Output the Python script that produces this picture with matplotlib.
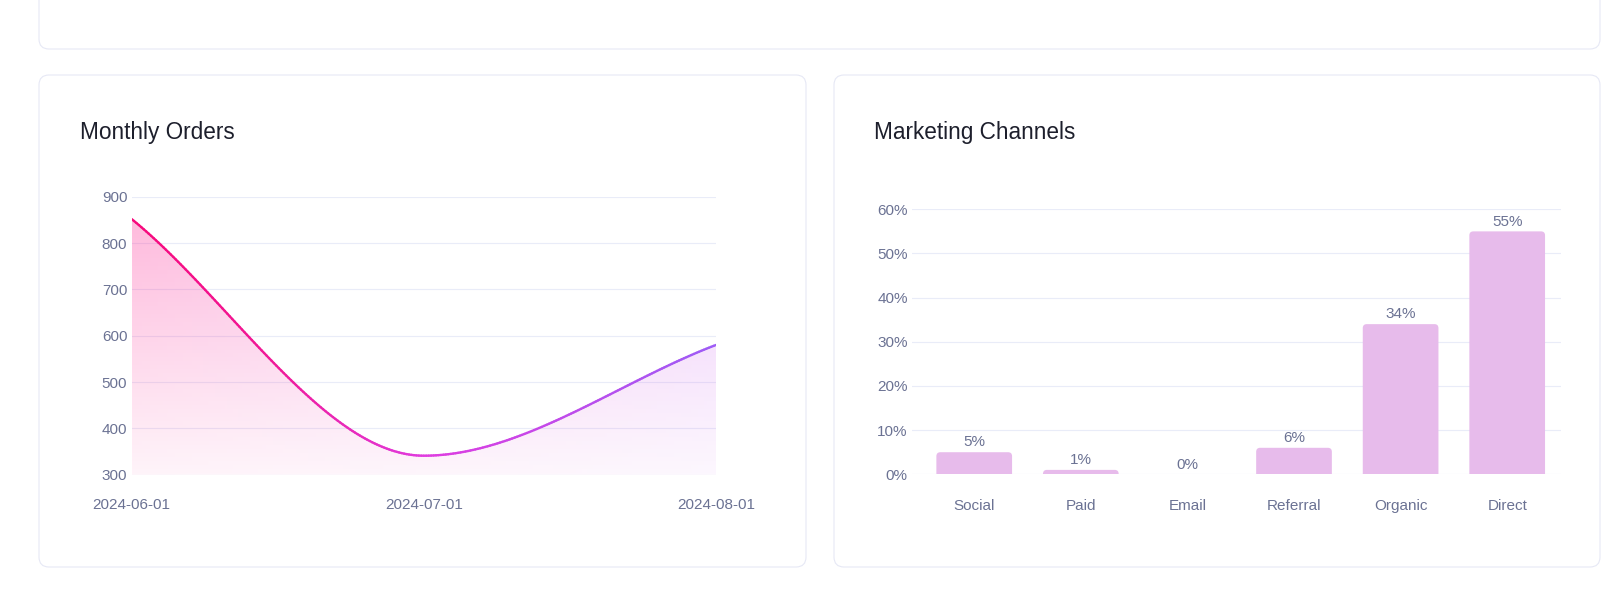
import numpy as np
import matplotlib.pyplot as plt
from matplotlib.path import Path
from matplotlib.patches import PathPatch, FancyBboxPatch
from matplotlib.collections import LineCollection
from matplotlib.colors import LinearSegmentedColormap
from matplotlib.transforms import IdentityTransform

plt.rcParams['font.family'] = ['Liberation Sans', 'DejaVu Sans']

# data
order_dates = ['2024-06-01', '2024-07-01', '2024-08-01']
order_counts = [852, 341, 580]
order_ticks = [300, 400, 500, 600, 700, 800, 900]

channels = ['Social', 'Paid', 'Email', 'Referral', 'Organic', 'Direct']
channel_share = [5, 1, 0, 6, 34, 55]
share_ticks = [0, 10, 20, 30, 40, 50, 60]

W, H = 1619, 596
TICK_COLOR = '#6b7293'
GRID_COLOR = '#e9ecf8'
TITLE_COLOR = '#1d1f2c'
BAR_COLOR = '#e7bbeb'

fig = plt.figure(figsize=(W / 100, H / 100), dpi=100)
fig.patch.set_facecolor('white')

# card backgrounds (pixel coords, y measured from top)
for x0, y0, x1, y1 in [(39, -30, 1600, 49), (39, 75, 806, 567), (834, 75, 1600, 567)]:
    card = FancyBboxPatch((x0, H - y1), x1 - x0, y1 - y0,
                          boxstyle='round,pad=0,rounding_size=10',
                          transform=IdentityTransform(), fc='white',
                          ec='#e6e8f5', lw=0.8, zorder=0)
    fig.add_artist(card)

fig.text(79.5 / W, 1 - 132.5 / H, 'Monthly Orders', fontsize=16.3,
         color=TITLE_COLOR, va='center', ha='left')
fig.text(873.5 / W, 1 - 132.5 / H, 'Marketing Channels', fontsize=16.3,
         color=TITLE_COLOR, va='center', ha='left')

# ---- Monthly Orders (smooth area) ----
ax1 = fig.add_axes([131.5 / W, (H - 474.7) / H, (716 - 131.5) / W, (474.7 - 196.7) / H])
ax1.set_facecolor('none')

x = np.arange(len(order_counts), dtype=float)
y = np.array(order_counts, dtype=float)
d = np.diff(y) / np.diff(x)
m = np.empty_like(y)
m[0], m[-1] = d[0], d[-1]
for i in range(1, len(y) - 1):
    m[i] = 0.0 if d[i - 1] * d[i] <= 0 else (d[i - 1] + d[i]) / 2

verts = [(x[0], y[0])]
codes = [Path.MOVETO]
for i in range(len(x) - 1):
    h = x[i + 1] - x[i]
    verts += [(x[i] + h / 3, y[i] + m[i] * h / 3),
              (x[i + 1] - h / 3, y[i + 1] - m[i + 1] * h / 3),
              (x[i + 1], y[i + 1])]
    codes += [Path.CURVE4] * 3
curve = Path(verts, codes)

base_y = order_ticks[0]
fill_path = Path(verts + [(x[-1], base_y), (x[0], base_y), (x[0], y[0])],
                 codes + [Path.LINETO, Path.LINETO, Path.CLOSEPOLY])
fill_patch = PathPatch(fill_path, fc='none', ec='none')
ax1.add_patch(fill_patch)

nx_, ny_ = 200, 200
gx = np.linspace(0, 1, nx_)
gy = np.linspace(0, 1, ny_)
pink = np.array([255, 25, 140]) / 255
purple = np.array([205, 95, 240]) / 255
base = pink[None, :] * (1 - gx)[:, None] + purple[None, :] * gx[:, None]
img = np.zeros((ny_, nx_, 4))
img[..., :3] = base[None, :, :]
img[..., 3] = (0.05 + 0.25 * gy)[:, None]
im = ax1.imshow(img, extent=[x[0], x[-1], base_y, y.max()], origin='lower',
                aspect='auto', zorder=1, interpolation='bilinear')
im.set_clip_path(fill_patch)

pts = []
for seg, code in curve.iter_bezier():
    if code == Path.CURVE4:
        pts.append(seg(np.linspace(0, 1, 120)))
pts = np.vstack(pts)
segs = np.stack([pts[:-1], pts[1:]], axis=1)
stroke_cmap = LinearSegmentedColormap.from_list(
    'stroke', [(0, '#f7097c'), (0.25, '#f01a9a'), (0.5, '#e03ce0'), (1, '#9d5cf6')])
lc = LineCollection(segs, colors=stroke_cmap(pts[:-1, 0] / x[-1]),
                    linewidths=1.7, capstyle='round', zorder=3)
ax1.add_collection(lc)

ax1.set_xlim(x[0], x[-1])
ax1.set_ylim(order_ticks[0], order_ticks[-1])
ax1.set_yticks(order_ticks)
ax1.set_xticks(x)
ax1.set_xticklabels(order_dates)
ax1.grid(axis='y', color=GRID_COLOR, lw=0.8, zorder=0)
ax1.set_axisbelow(True)
for s in ax1.spines.values():
    s.set_visible(False)
ax1.tick_params(axis='y', length=0, pad=3.0, labelsize=11, labelcolor=TICK_COLOR)
ax1.tick_params(axis='x', length=0, pad=16.5, labelsize=11, labelcolor=TICK_COLOR)

# ---- Marketing Channels (bars with rounded tops) ----
ax2 = fig.add_axes([912.4 / W, (H - 474.3) / H, (1560.5 - 912.4) / W, (474.3 - 209.3) / H])
ax2.set_facecolor('none')
ax2.set_xlim(-0.58, len(channels) - 0.5)
ax2.set_ylim(share_ticks[0], share_ticks[-1])

pos = np.arange(len(channels))
bar_w = 0.71
px_x = ax2.bbox.width / (ax2.get_xlim()[1] - ax2.get_xlim()[0])
px_y = ax2.bbox.height / (ax2.get_ylim()[1] - ax2.get_ylim()[0])
for i, v in enumerate(channel_share):
    if v <= 0:
        continue
    ry = min(4 / px_y, v)
    rx = ry * px_y / px_x
    x0, x1 = i - bar_w / 2, i + bar_w / 2
    bar_path = Path([(x0, 0), (x0, v - ry), (x0, v), (x0 + rx, v),
                     (x1 - rx, v), (x1, v), (x1, v - ry), (x1, 0), (x0, 0)],
                    [Path.MOVETO, Path.LINETO, Path.CURVE3, Path.CURVE3,
                     Path.LINETO, Path.CURVE3, Path.CURVE3, Path.LINETO, Path.CLOSEPOLY])
    ax2.add_patch(PathPatch(bar_path, fc=BAR_COLOR, ec='none', zorder=2))
for i, v in enumerate(channel_share):
    ax2.annotate(f'{v}%', (i, v), xytext=(0, 2), textcoords='offset points',
                 ha='center', va='bottom', fontsize=11, color=TICK_COLOR)
ax2.set_yticks(share_ticks)
ax2.set_yticklabels([f'{v}%' for v in share_ticks])
ax2.set_xticks(pos)
ax2.set_xticklabels(channels)
ax2.grid(axis='y', color=GRID_COLOR, lw=0.8, zorder=0)
ax2.set_axisbelow(True)
for s in ax2.spines.values():
    s.set_visible(False)
ax2.tick_params(axis='y', length=0, pad=3.3, labelsize=11, labelcolor=TICK_COLOR)
ax2.tick_params(axis='x', length=0, pad=17.5, labelsize=11, labelcolor=TICK_COLOR)

fig.savefig('out.png', dpi=100, facecolor='white')
